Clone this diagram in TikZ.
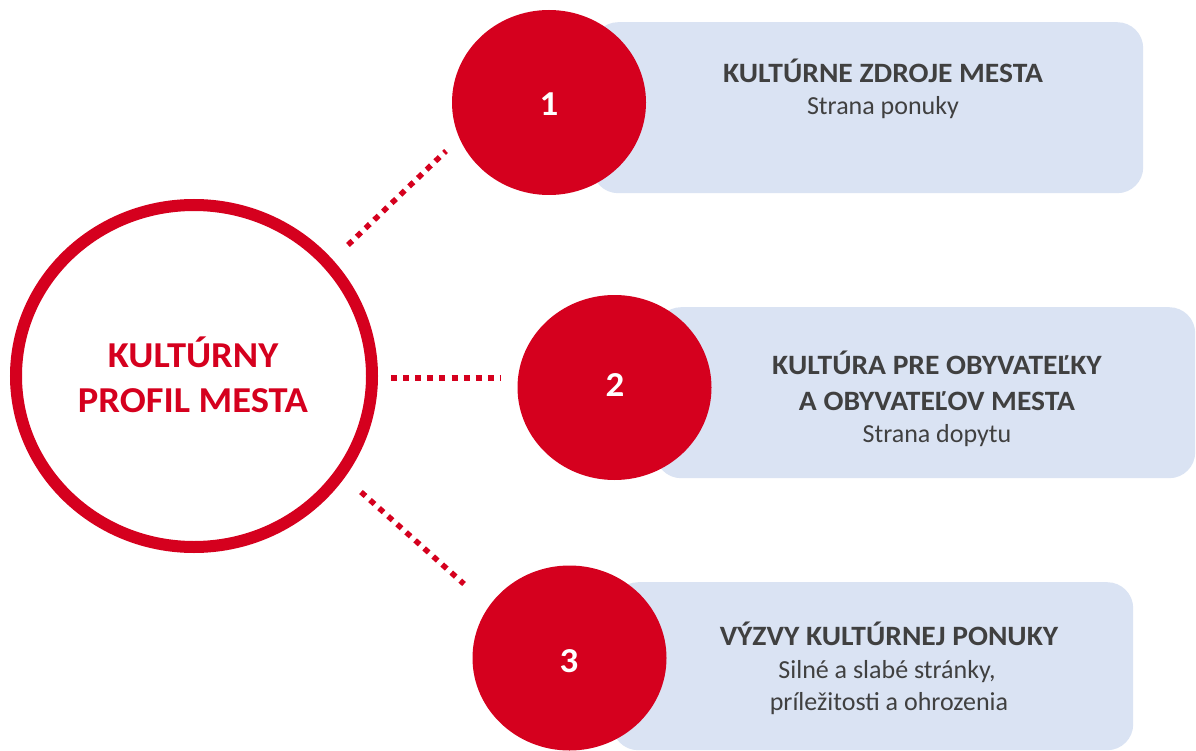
\documentclass[tikz,border=0pt]{standalone}
\usepackage{fontspec}
\setmainfont{Carlito}
\usetikzlibrary{shapes.geometric}
\definecolor{myred}{RGB}{213,0,30}
\definecolor{boxblue}{RGB}{218,227,243}
\definecolor{txtgray}{RGB}{64,64,64}
\newcommand{\hstretch}[1]{\scalebox{1.055}[1]{#1}}
\begin{document}
\begin{tikzpicture}[x=1pt,y=-1pt,
  box/.style={fill=boxblue, draw=none, rounded corners=26pt, inner sep=0pt, anchor=north west},
  reddot/.style={ellipse, fill=myred, draw=none, inner sep=0pt, minimum width=194pt, minimum height=185pt},
  title/.style={font=\fontsize{28}{32}\selectfont\bfseries, text=txtgray, anchor=base, inner sep=0pt},
  sub/.style={font=\fontsize{26}{32}\selectfont, text=txtgray, anchor=base, inner sep=0pt},
  num/.style={font=\fontsize{35}{40}\selectfont\bfseries, text=white, anchor=base, inner sep=0pt},
  maintxt/.style={font=\fontsize{36.5}{45}\selectfont\bfseries, text=myred, anchor=base, inner sep=0pt},
  conn/.style={draw=myred, line width=5.5pt, dash pattern=on 6pt off 6.1pt}
]
\useasboundingbox[fill=white] (0,0) rectangle (1196,751);
% boxes
\node[box, minimum width=551pt, minimum height=171pt] (r1) at (592,22) {};
\node[box, minimum width=540pt, minimum height=171pt] (r2) at (655,307) {};
\node[box, minimum width=521pt, minimum height=168pt] (r3) at (612,582) {};
% red circles
\node[reddot] (c1) at (549,102.5) {};
\node[reddot] (c2) at (614.5,387.5) {};
\node[reddot] (c3) at (569.5,658) {};
\node[num] (n1) at (549,116) {\hstretch{1}};
\node[num] (n2) at (615,396) {\hstretch{2}};
\node[num] (n3) at (569,672) {\hstretch{3}};
% main circle
\node[ellipse, draw=myred, line width=12pt, minimum width=356pt, minimum height=342pt, inner sep=0pt] (main) at (194,376) {};
\node[maintxt] (m1) at (193,367) {\hstretch{KULTÚRNY}};
\node[maintxt] (m2) at (193,412) {\hstretch{PROFIL MESTA}};
% texts
\node[title] (t1) at (883,83) {\hstretch{KULTÚRNE ZDROJE MESTA}};
\node[sub] (s1) at (883,115) {Strana ponuky};
\node[title] (t2a) at (937,374) {\hstretch{KULTÚRA PRE OBYVATEĽKY}};
\node[title] (t2b) at (937,410) {\hstretch{A OBYVATEĽOV MESTA}};
\node[sub] (s2) at (937,442) {Strana dopytu};
\node[title] (t3) at (889,645.5) {\hstretch{VÝZVY KULTÚRNEJ PONUKY}};
\node[sub] (s3a) at (887,678) {Silné a slabé stránky,};
\node[sub] (s3b) at (889,710) {príležitosti a ohrozenia};
% dotted connectors
\coordinate (d1a) at (348,245);
\coordinate (d1b) at (446,151);
\coordinate (d2a) at (391,378);
\coordinate (d2b) at (501,378);
\coordinate (d3a) at (361,492);
\coordinate (d3b) at (464,584);
\draw[conn] (d1a) -- (d1b);
\draw[conn] (d2a) -- (d2b);
\draw[conn] (d3a) -- (d3b);
\end{tikzpicture}
\end{document}
